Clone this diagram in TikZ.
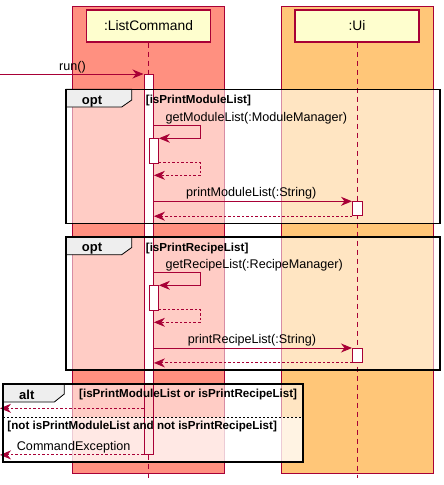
\documentclass[tikz,border=0pt]{standalone}
\usepackage{fontspec}
\setmainfont{Liberation Sans}
\usetikzlibrary{positioning,arrows.meta}
\definecolor{umlred}{HTML}{A80036}
\definecolor{lcbox}{HTML}{FF9080}
\definecolor{uibox}{HTML}{FFC678}
\definecolor{partfill}{HTML}{FEFECE}
\definecolor{tabgrey}{HTML}{EEEEEE}
\begin{document}
\begin{tikzpicture}[x=1pt,y=-1pt,
    participant/.style={draw=umlred, fill=partfill, line width=1.4pt, inner sep=0pt,
      minimum width=124pt, minimum height=32pt, font=\fontsize{13.8}{16}\selectfont},
    lifeline/.style={umlred, line width=0.9pt, dash pattern=on 5pt off 4pt},
    actbar/.style={draw=umlred, line width=0.9pt, inner sep=0pt, minimum width=9.5pt, anchor=north west},
    actfill/.style={actbar, fill=white},
    msg/.style={umlred, line width=0.9pt, -{Stealth[length=11pt,width=9pt,inset=3.5pt]}},
    ret/.style={msg, dash pattern=on 2.5pt off 2pt},
    lbl/.style={font=\fontsize{12.6}{14}\selectfont, inner sep=0pt, anchor=base west},
    guard/.style={font=\bfseries\fontsize{11.6}{13}\selectfont, inner sep=0pt, anchor=base west},
    tabname/.style={font=\bfseries\fontsize{13}{15}\selectfont, inner sep=0pt, anchor=base west},
    veil/.style={fill=white, fill opacity=0.55},
    framebox/.style={draw=black, line width=1.6pt},
    tabbox/.style={draw=black, line width=0.8pt, fill=tabgrey}]
    \useasboundingbox (0,0) rectangle (444,485);
    \draw [umlred, fill=lcbox, line width=0.9pt] (72.5,6) rectangle (224,473);
    \draw [umlred, fill=uibox, line width=0.9pt] (281.5,6) rectangle (433,473);
    \fill [veil] (66,89.3) rectangle (440,223.5);
    \fill [veil] (66,236.7) rectangle (440,370);
    \fill [veil] (3,384) rectangle (303,462);
    \fill [veil] (3,417) rectangle (303,462);
    \node [participant] (lc) at (148.5,26) {:ListCommand};
    \node [participant] (ui) at (357,26) {:Ui};
    \coordinate (lcend) at (148.5,478);
    \coordinate (uiend) at (357,478);
    \coordinate (caller) at (0,74);
    \fill [white] (143.5,74) rectangle (153,384);
    \node [actbar, minimum height=380pt] (lcact) at (143.5,74) {};
    \draw [lifeline] (lc.south) -- (lcact.north -| lc.south);
    \draw [lifeline] (lcend |- lcact.south) -- (lcend);
    \draw [lifeline] (ui.south) -- (uiend);
    \node [actfill, minimum height=25pt] (lcsub1) at (148.5,138.3) {};
    \node [actfill, minimum height=24.7pt] (lcsub2) at (148.5,285.3) {};
    \node [actfill, minimum height=14pt] (uiact1) at (352,201.3) {};
    \node [actfill, minimum height=14pt] (uiact2) at (352,348) {};
    \draw [msg] (caller) -- (lcact.north west);
    \node [lbl] (runlbl) at (59,70) {run()};
    \draw [msg] (lcact.east |- 0,125.7) -- (200,125.7) -- (200,138.3) -- (lcsub1.north east);
    \node [lbl] (getmod) at (165.5,121.5) {getModuleList(:ModuleManager)};
    \draw [ret] (lcsub1.east |- 0,162.3) -- (200,162.3) -- (200,175.3) -- (lcact.east |- 0,175.3);
    \draw [msg] (lcact.east |- uiact1.north) -- (uiact1.north west);
    \node [lbl] (printmod) at (186,196.5) {printModuleList(:String)};
    \draw [ret] (uiact1.south west) -- (lcact.east |- uiact1.south);
    \draw [msg] (lcact.east |- 0,272.3) -- (200,272.3) -- (200,285.3) -- (lcsub2.north east);
    \node [lbl] (getrec) at (165.5,268.5) {getRecipeList(:RecipeManager)};
    \draw [ret] (lcsub2.east |- 0,309.3) -- (200,309.3) -- (200,322.3) -- (lcact.east |- 0,322.3);
    \draw [msg] (lcact.east |- uiact2.north) -- (uiact2.north west);
    \node [lbl] (printrec) at (187.7,343) {printRecipeList(:String)};
    \draw [ret] (uiact2.south west) -- (lcact.east |- uiact2.south);
    \draw [ret] (lcact.west |- 0,408.3) -- (caller |- 0,408.3);
    \draw [ret] (lcact.south west) -- (caller |- lcact.south);
    \node [lbl] (exclbl) at (16.7,450) {CommandException};
    \draw [tabbox] (66,89.3) -- (131.7,89.3) -- (131.7,100) -- (121.7,107) -- (66,107) -- cycle;
    \draw [framebox] (66,89.3) rectangle (440,223.5);
    \node [tabname] (opt1) at (81.7,104.5) {opt};
    \node [guard] (optg1) at (145.7,103.5) {[isPrintModuleList]};
    \draw [tabbox] (66,236.7) -- (131.7,236.7) -- (131.7,247.5) -- (121.7,254.7) -- (66,254.7) -- cycle;
    \draw [framebox] (66,236.7) rectangle (440,370);
    \node [tabname] (opt2) at (81.7,251.5) {opt};
    \node [guard] (optg2) at (145.7,251) {[isPrintRecipeList]};
    \draw [tabbox] (3,384) -- (64.3,384) -- (64.3,394) -- (54.3,402) -- (3,402) -- cycle;
    \draw [framebox] (3,384) rectangle (303,462);
    \node [tabname] (alt) at (19,399) {alt};
    \node [guard] (altg1) at (79,397.5) {[isPrintModuleList or isPrintRecipeList]};
    \draw [black, line width=0.7pt, dash pattern=on 2pt off 2pt] (3,417) -- (303,417);
    \node [guard] (altg2) at (7.3,429) {[not isPrintModuleList and not isPrintRecipeList]};
\end{tikzpicture}
\end{document}
